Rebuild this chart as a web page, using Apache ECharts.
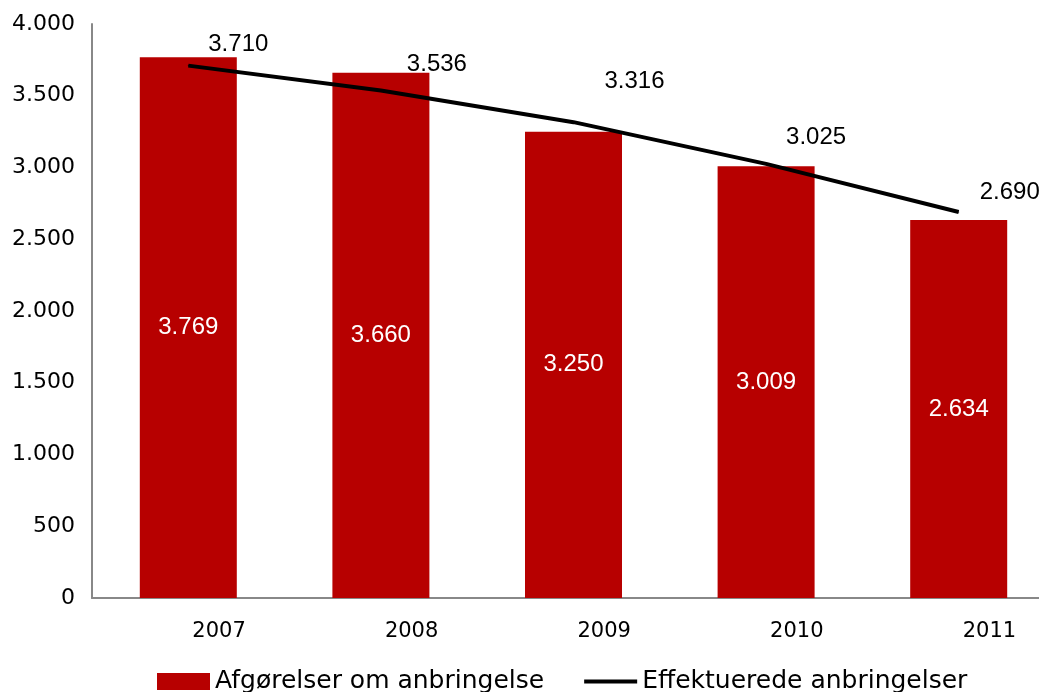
<!DOCTYPE html>
<html>
<head>
<meta charset="utf-8">
<script src="https://cdn.jsdelivr.net/npm/echarts@6/dist/echarts.min.js"></script>
<style>
    html, body { margin: 0; padding: 0; background: #fff; }
    #chart { width: 1039px; height: 692px; }
</style>
</head>
<body>
<div id="chart"></div>
<script>
// data
const years = ['2007', '2008', '2009', '2010', '2011'];
const afgoerelser = [3769, 3660, 3250, 3009, 2634];
const effektuerede = [3710, 3536, 3316, 3025, 2690];
const yTicks = [0, 500, 1000, 1500, 2000, 2500, 3000, 3500, 4000];

// label offsets for the line values (style only)
const lineLabelOffsets = [[50, -4], [56, -9], [61, -23], [50, -9], [51, -2]];

function fmt(v) {
    return String(v).replace(/\B(?=(\d{3})+(?!\d))/g, '.');
}

let myChart = echarts.init(document.getElementById('chart'));

let option = {
    animation: false,
    grid: {
        left: 92,
        top: 24,
        height: 574,
        width: 963,
        outerBoundsMode: 'none'
    },
    legend: {
        left: 152,
        top: 664,
        itemWidth: 53,
        itemHeight: 17,
        itemGap: 40,
        textStyle: {
            fontFamily: 'DejaVu Sans',
            fontSize: 25,
            color: '#000'
        },
        data: [
            { name: 'Afgørelser om anbringelse', icon: 'rect' },
            { name: 'Effektuerede anbringelser', icon: 'path://M0,0H53V4H0Z' }
        ]
    },
    xAxis: {
        type: 'category',
        data: years,
        axisLine: {
            lineStyle: { color: '#888', width: 2 }
        },
        axisTick: { show: false },
        axisLabel: {
            align: 'left',
            padding: [0, 0, 0, 4],
            margin: 23,
            fontFamily: 'DejaVu Sans',
            fontSize: 21,
            color: '#000'
        }
    },
    yAxis: {
        type: 'value',
        min: yTicks[0],
        max: yTicks[yTicks.length - 1],
        interval: 500,
        axisLine: {
            show: true,
            lineStyle: { color: '#888', width: 2 }
        },
        axisTick: { show: false },
        splitLine: { show: false },
        axisLabel: {
            margin: 17,
            fontFamily: 'DejaVu Sans',
            fontSize: 22,
            color: '#000',
            formatter: fmt
        }
    },
    series: [
        {
            name: 'Afgørelser om anbringelse',
            type: 'bar',
            barWidth: 97,
            itemStyle: { color: '#B70000' },
            label: {
                show: true,
                position: 'inside',
                color: '#fff',
                fontFamily: 'Liberation Sans',
                fontSize: 24,
                formatter: p => fmt(p.value)
            },
            data: afgoerelser
        },
        {
            name: 'Effektuerede anbringelser',
            type: 'line',
            symbol: 'circle',
            symbolSize: 1,
            showSymbol: true,
            z: 5,
            lineStyle: { color: '#000', width: 4 },
            itemStyle: { color: '#000' },
            label: {
                show: true,
                position: 'top',
                color: '#000',
                fontFamily: 'Liberation Sans',
                fontSize: 24,
                formatter: p => fmt(p.value)
            },
            data: effektuerede.map((v, i) => ({
                value: v,
                label: { offset: lineLabelOffsets[i] }
            }))
        }
    ]
};

myChart.setOption(option);
</script>
</body>
</html>
